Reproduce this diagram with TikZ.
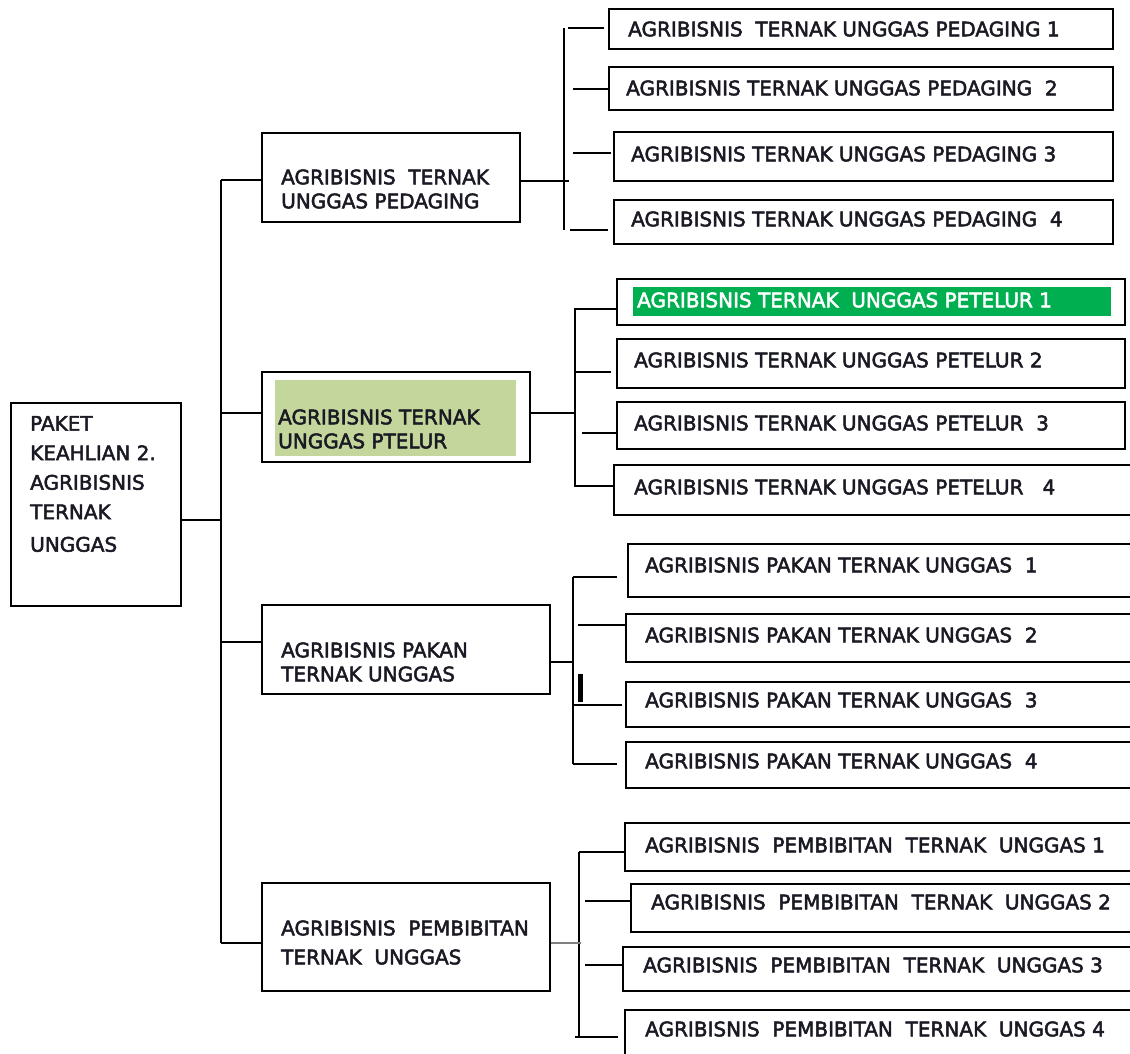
\documentclass[tikz,border=0pt]{standalone}
\usepackage{fontspec}
\setmainfont{DejaVu Sans}
\newfontfamily\embfont[FakeBold=2.5]{DejaVu Sans}
\usetikzlibrary{fit}
\definecolor{lightolive}{HTML}{C3D69B}
\definecolor{brightgreen}{HTML}{00B050}
\definecolor{inkdark}{HTML}{1A1A24}
\begin{document}
\begin{tikzpicture}[x=1pt,y=-1pt,
  box/.style={draw=black, line width=1.8pt, inner sep=0pt},
  ln/.style={draw=black, line width=1.7pt},
  txt/.style={anchor=west, inner sep=0pt, align=left, text=inkdark, font=\embfont\fontsize{20}{24}\selectfont}]
\useasboundingbox (0,0) rectangle (1130,1053);

% root
\node[box, fit={(11,403)(181,606)}] (root) {};
\node[txt, font=\embfont\fontsize{20}{29.5}\selectfont] (roott) at (30,484) {PAKET\\KEAHLIAN 2.\\AGRIBISNIS\\TERNAK\\[3pt]UNGGAS};

% main trunk
\coordinate (tt) at (221,180);
\coordinate (tb) at (221,943);
\coordinate (j0) at (221,520);
\draw[ln] (tt) -- (tb);
\draw[ln] (root.east |- j0) -- (j0);

% level 2
\node[box, fit={(262,133)(520,222)}] (L1) {};
\node[txt] (L1t) at (281,189) {AGRIBISNIS\ \ TERNAK\\UNGGAS PEDAGING};
\draw[ln] (tt) -- (tt -| L1.west);

\node[box, fit={(262,372)(530,462)}] (L2) {};
\node[fill=lightolive, inner sep=0pt, fit={(275,380)(516,456)}] (L2f) {};
\node[txt] (L2t) at (278,429) {AGRIBISNIS TERNAK\\UNGGAS PTELUR};
\coordinate (j2) at (221,413);
\draw[ln] (j2) -- (j2 -| L2.west);

\node[box, fit={(262,605)(550,694)}] (L3) {};
\node[txt] (L3t) at (281,662) {AGRIBISNIS PAKAN\\TERNAK UNGGAS};
\coordinate (j3) at (221,642);
\draw[ln] (j3) -- (j3 -| L3.west);

\node[box, fit={(262,883)(550,991)}] (L4) {};
\node[txt, font=\embfont\fontsize{20}{29}\selectfont] (L4t) at (281,942.5) {AGRIBISNIS\ \ PEMBIBITAN\\TERNAK\ \ UNGGAS};
\draw[ln] (tb) -- (tb -| L4.west);

% group 1: pedaging
\node[box, fit={(609,9)(1113,49)}] (a1) {};
\node[txt] (a1t) at (628,29) {AGRIBISNIS\ \ TERNAK UNGGAS PEDAGING 1};
\node[box, fit={(609,67)(1113,110)}] (a2) {};
\node[txt] (a2t) at (626,88) {AGRIBISNIS TERNAK UNGGAS PEDAGING\ \ 2};
\node[box, fit={(614,132)(1113,181)}] (a3) {};
\node[txt] (a3t) at (631,154) {AGRIBISNIS TERNAK UNGGAS PEDAGING 3};
\node[box, fit={(614,200)(1113,244)}] (a4) {};
\node[txt] (a4t) at (631,219) {AGRIBISNIS TERNAK UNGGAS PEDAGING\ \ 4};
\coordinate (g1t) at (564,28);
\coordinate (g1b) at (564,230);
\coordinate (g1j) at (569,181);
\draw[ln] (g1t) -- (g1b);
\draw[ln] (L1.east |- g1j) -- (g1j);
\coordinate (s11) at (568,28); \coordinate (e11) at (604,28);
\draw[ln] (s11) -- (e11);
\coordinate (s12) at (573,89);
\draw[ln] (s12) -- (s12 -| a2.west);
\coordinate (s13) at (573,153); \coordinate (e13) at (611,153);
\draw[ln] (s13) -- (e13);
\coordinate (s14) at (570,230); \coordinate (e14) at (608,230);
\draw[ln] (s14) -- (e14);

% group 2: petelur
\node[box, fit={(617,279)(1125,325)}] (b1) {};
\node[fill=brightgreen, inner sep=0pt, fit={(633,287)(1111,316)}] (b1f) {};
\node[txt, text=white] (b1t) at (637,300) {AGRIBISNIS TERNAK\ \ UNGGAS PETELUR 1};
\node[box, fit={(617,339)(1125,388)}] (b2) {};
\node[txt] (b2t) at (634,360) {AGRIBISNIS TERNAK UNGGAS PETELUR 2};
\node[box, fit={(617,402)(1125,449)}] (b3) {};
\node[txt] (b3t) at (634,423) {AGRIBISNIS TERNAK UNGGAS PETELUR\ \ 3};
\node[box, fit={(614,465)(1140,515)}] (b4) {};
\node[txt] (b4t) at (634,487) {AGRIBISNIS TERNAK UNGGAS PETELUR\ \ \ 4};
\coordinate (g2t) at (575,308);
\coordinate (g2b) at (575,487);
\coordinate (g2j) at (575,413);
\draw[ln] (g2t) -- (g2b);
\draw[ln] (L2.east |- g2j) -- (g2j);
\coordinate (s21) at (575,309);
\draw[ln] (s21) -- (s21 -| b1.west);
\coordinate (s22) at (575,372); \coordinate (e22) at (611,372);
\draw[ln] (s22) -- (e22);
\coordinate (s23) at (582,433);
\draw[ln] (s23) -- (s23 -| b3.west);
\coordinate (s24) at (575,486);
\draw[ln] (s24) -- (s24 -| b4.west);

% group 3: pakan
\node[box, fit={(628,544)(1140,597)}] (c1) {};
\node[txt] (c1t) at (645,565) {AGRIBISNIS PAKAN TERNAK UNGGAS\ \ 1};
\node[box, fit={(626,614)(1140,662)}] (c2) {};
\node[txt] (c2t) at (645,635) {AGRIBISNIS PAKAN TERNAK UNGGAS\ \ 2};
\node[box, fit={(626,682)(1140,727)}] (c3) {};
\node[txt] (c3t) at (645,700) {AGRIBISNIS PAKAN TERNAK UNGGAS\ \ 3};
\node[box, fit={(626,742)(1140,788)}] (c4) {};
\node[txt] (c4t) at (645,761) {AGRIBISNIS PAKAN TERNAK UNGGAS\ \ 4};
\coordinate (g3t) at (573,577);
\coordinate (g3b) at (573,764);
\coordinate (g3j) at (573,662);
\draw[ln] (g3t) -- (g3b);
\draw[ln] (L3.east |- g3j) -- (g3j);
\coordinate (e31) at (617,577);
\draw[ln] (g3t) -- (e31);
\coordinate (s32) at (578,625);
\draw[ln] (s32) -- (s32 -| c2.west);
\coordinate (s33) at (573,705); \coordinate (e33) at (622,705);
\draw[ln] (s33) -- (e33);
\coordinate (e34) at (617,764);
\draw[ln] (g3b) -- (e34);
\node[fill=black, inner sep=0pt, fit={(578,674)(583,702)}] (bar) {};

% group 4: pembibitan
\node[box, fit={(625,823)(1140,871)}] (d1) {};
\node[txt] (d1t) at (645,845) {AGRIBISNIS\ \ PEMBIBITAN\ \ TERNAK\ \ UNGGAS 1};
\node[box, fit={(631,884)(1140,932)}] (d2) {};
\node[txt] (d2t) at (651,902) {AGRIBISNIS\ \ PEMBIBITAN\ \ TERNAK\ \ UNGGAS 2};
\node[box, fit={(623,947)(1140,991)}] (d3) {};
\node[txt] (d3t) at (643,965) {AGRIBISNIS\ \ PEMBIBITAN\ \ TERNAK\ \ UNGGAS 3};
\node[box, fit={(625,1010)(1140,1070)}] (d4) {};
\node[txt] (d4t) at (645,1029) {AGRIBISNIS\ \ PEMBIBITAN\ \ TERNAK\ \ UNGGAS 4};
\coordinate (g4t) at (579,852);
\coordinate (g4b) at (579,1037);
\coordinate (g4j) at (581,943);
\draw[ln] (g4t) -- (g4b);
\draw[ln, draw=gray, line width=1.3pt] (L4.east |- g4j) -- (g4j);
\draw[ln] (g4t) -- (g4t -| d1.west);
\coordinate (s42) at (585,901);
\draw[ln] (s42) -- (s42 -| d2.west);
\coordinate (s43) at (585,965);
\draw[ln] (s43) -- (s43 -| d3.west);
\coordinate (s44) at (575,1037); \coordinate (e44) at (618,1037);
\draw[ln] (s44) -- (e44);
\end{tikzpicture}
\end{document}
